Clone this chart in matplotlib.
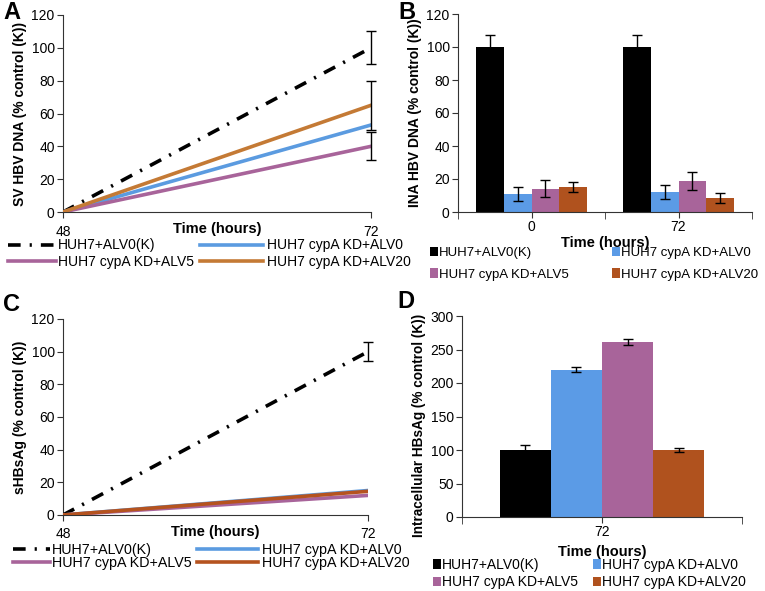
import numpy as np
import matplotlib.pyplot as plt

plt.rcParams['font.family'] = ['Liberation Sans', 'DejaVu Sans']

series = ['HUH7+ALV0(K)', 'HUH7 cypA KD+ALV0', 'HUH7 cypA KD+ALV5', 'HUH7 cypA KD+ALV20']

# panel A: SV HBV DNA, lines from 48 h to 72 h
hours_a = [48, 72]
sv_dna = [[0, 100], [0, 53], [0, 40], [0, 65]]
sv_err = [[0, 10], [0, 0], [0, 8.5], [0, 15]]

# panel B: INA HBV DNA, bars
time_b = ['0', '72']
ina_dna = [[100, 100], [11, 12], [14, 19], [15, 8.5]]
ina_err = [[7, 7], [4.3, 4.2], [5.2, 5.5], [3, 3]]

# panel C: sHBsAg
hours_c = [48, 72]
shbsag = [[0, 100], [0, 15], [0, 12], [0, 14.5]]
shbsag_err = [[0, 6], [0, 0], [0, 0], [0, 0]]

# panel D: intracellular HBsAg
time_d = ['72']
intra = [[100], [220], [261], [100]]
intra_err = [[7], [4], [5], [3]]

line_colors_a = ['black', '#5B9BE0', '#A8649A', '#C47A35']
line_colors_c = ['black', '#5B9BE0', '#A8649A', '#B5531F']
bar_colors = ['black', '#5B9BE6', '#A8649A', '#B0521E']
dashdot = (0, (3.5, 2.5, 0.6, 2.5))

W, H = 765, 591
fig = plt.figure(figsize=(W / 100, H / 100), dpi=100)


def add_axes(l, r, t, b):
    return fig.add_axes([l / W, 1 - b / H, (r - l) / W, (b - t) / H])


def style(ax, ylabel, ymax, ystep, yfs=10):
    for s in ['top', 'right']:
        ax.spines[s].set_visible(False)
    for s in ['left', 'bottom']:
        ax.spines[s].set_color('#333333')
    ax.set_ylim(0, ymax)
    ax.set_yticks(np.arange(0, ymax + 1, ystep))
    ax.tick_params(labelsize=10, length=4, color='#333333', pad=2)
    ax.set_ylabel(ylabel, fontsize=yfs, fontweight='bold', labelpad=3)


def col_legend(handles, idx, x, y, fs, hl_px, gap_px, ls, hh=0.7):
    # one legend per column, so each column sits where it does in the figure
    fpx = fs * 100 / 72
    leg = fig.legend([handles[i] for i in idx], [series[i] for i in idx], loc='upper left',
                     bbox_to_anchor=(x / W, 1 - y / H), frameon=False, fontsize=fs,
                     handlelength=hl_px / fpx, handletextpad=gap_px / fpx, handleheight=hh,
                     labelspacing=ls, borderaxespad=0, borderpad=0)
    return leg


def line_panel(ax, hours, vals, errs, colors, ylabel):
    handles = []
    for i in range(4):
        ls = dashdot if i == 0 else '-'
        h, = ax.plot(hours, vals[i], color=colors[i], lw=2.6, linestyle=ls, zorder=3)
        handles.append(h)
        if errs[i][1] > 0:
            ax.errorbar(hours[1], vals[i][1], yerr=errs[i][1], fmt='none', ecolor='black',
                        elinewidth=1, capsize=3.5, capthick=1, zorder=4, clip_on=False)
    ax.set_xlim(hours[0], hours[1])
    ax.set_xticks(hours)
    style(ax, ylabel, 120, 20)
    ax.tick_params(axis='x', pad=5)
    return handles


def bar_panel(ax, cats, vals, errs, ylabel, ymax, ystep, width, yfs):
    x = np.arange(len(cats))
    handles = []
    for i in range(4):
        pos = x + (i - 1.5) * width
        b = ax.bar(pos, vals[i], width=width, color=bar_colors[i], zorder=2)
        ax.errorbar(pos, vals[i], yerr=errs[i], fmt='none', ecolor='black',
                    elinewidth=1, capsize=3.5, capthick=1, zorder=3)
        handles.append(b)
    ax.set_xlim(-0.5, len(cats) - 0.5)
    ax.set_xticks(x)
    ax.set_xticklabels(cats)
    ax.set_xticks(np.arange(0, len(cats) + 1) - 0.5, minor=True)
    ax.tick_params(axis='x', which='major', length=0, pad=8)
    style(ax, ylabel, ymax, ystep, yfs)
    ax.tick_params(axis='x', which='minor', length=5, color='#333333')
    return handles


# A
axa = add_axes(63, 371, 15, 212)
ha = line_panel(axa, hours_a, sv_dna, sv_err, line_colors_a, 'SV HBV DNA (% control (K))')
axa.set_xlabel('Time (hours)', fontsize=10.5, fontweight='bold')
axa.xaxis.set_label_coords(0.5, -0.05, transform=axa.transAxes)
col_legend(ha, [0, 2], 8, 238.5, 10, 48, 2, 0.2)
col_legend(ha, [1, 3], 200, 238.5, 10, 63, 4, 0.2)

# B
axb = add_axes(458, 752, 14, 212)
hb = bar_panel(axb, time_b, ina_dna, ina_err, 'INA HBV DNA (% control (K))', 120, 20, 0.19, 10)
axb.set_xlabel('Time (hours)', fontsize=10.5, fontweight='bold', labelpad=1)
col_legend(hb, [0, 2], 430, 246.5, 9.5, 8, 1, 0.73)
col_legend(hb, [1, 3], 612, 246.5, 9.5, 8, 1, 0.73)

# C
axc = add_axes(63, 368, 319, 515)
hc = line_panel(axc, hours_c, shbsag, shbsag_err, line_colors_c, 'sHBsAg (% control (K))')
axc.set_xlabel('Time (hours)', fontsize=10.5, fontweight='bold')
axc.xaxis.set_label_coords(0.5, -0.05, transform=axc.transAxes)
col_legend(hc, [0, 2], 13, 543, 10.3, 37, 2, -0.1)
col_legend(hc, [1, 3], 197, 543, 10.3, 61, 4, -0.1)

# D
axd = add_axes(462, 742, 316, 517)
hd = bar_panel(axd, time_d, intra, intra_err, 'Intracellular HBsAg (% control (K))', 300, 50, 0.183, 9.8)
axd.yaxis.set_label_coords(-0.13, 0.455, transform=axd.transAxes)
axd.set_xlabel('Time (hours)', fontsize=10.5, fontweight='bold', labelpad=4)
col_legend(hd, [0, 2], 433, 557.5, 10, 8, 1, 0.28)
col_legend(hd, [1, 3], 593, 557.5, 10, 8, 1, 0.28)

for lab, x, y in [('A', 3, 1), ('B', 398, 1), ('C', 3, 293), ('D', 397, 290)]:
    fig.text(x / W, 1 - y / H, lab, fontsize=17, fontweight='bold', va='top', ha='left')

fig.savefig('out.png', dpi=100)
